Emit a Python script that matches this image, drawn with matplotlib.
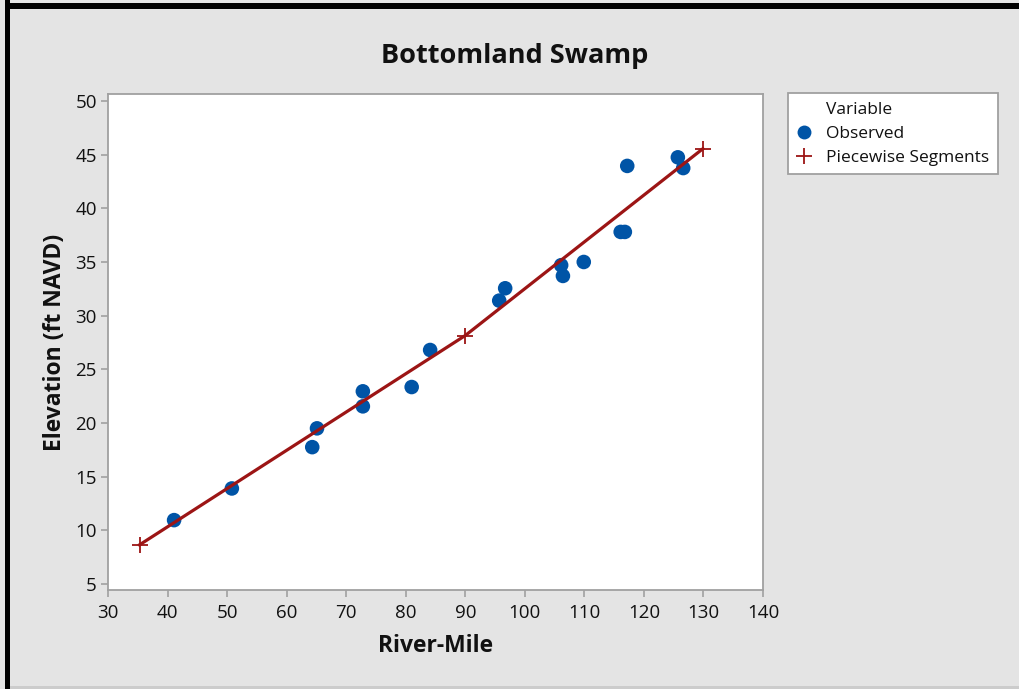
import matplotlib
matplotlib.use("Agg")
import matplotlib.pyplot as plt
from matplotlib.lines import Line2D
from matplotlib.patches import Rectangle

plt.rcParams['font.family'] = ['Open Sans', 'DejaVu Sans']

# Observed data (River-Mile, Elevation)
obs_x = [41.1, 50.8, 64.3, 65.1, 72.8, 72.8, 81.0, 84.1, 95.7, 96.7,
         106.1, 106.4, 109.9, 116.1, 116.8, 117.2, 125.7, 126.6]
obs_y = [10.95, 13.9, 17.75, 19.5, 22.95, 21.55, 23.35, 26.8, 31.4, 32.55,
         34.7, 33.7, 35.0, 37.8, 37.8, 43.95, 44.75, 43.75]

# Piecewise segment breakpoints
seg_x = [35.3, 90.0, 129.9]
seg_y = [8.65, 28.15, 45.55]

xticks = [30, 40, 50, 60, 70, 80, 90, 100, 110, 120, 130, 140]
yticks = [5, 10, 15, 20, 25, 30, 35, 40, 45, 50]

bg = '#e4e4e4'
spine_c = '#a0a0a0'
blue = '#0054a6'
red = '#9c1515'
txt = '#111111'

fig = plt.figure(figsize=(10.19, 6.89), dpi=100, facecolor=bg)

# outer frame: black at top and left, light gray at bottom
fig.add_artist(Rectangle((0.005, 0.0), 0.0045, 1.0, transform=fig.transFigure,
                         facecolor='black', edgecolor='none'))
fig.add_artist(Rectangle((0.005, 0.987), 0.995, 0.009, transform=fig.transFigure,
                         facecolor='black', edgecolor='none'))
fig.add_artist(Rectangle((0.0095, 0.0), 0.9905, 0.005, transform=fig.transFigure,
                         facecolor='#cccccc', edgecolor='none'))

ax = fig.add_axes([108/1019, 1-590/689, (763-108)/1019, (590-94)/689])
ax.set_facecolor('white')

ax.plot(seg_x, seg_y, color=red, lw=2.3, marker='+', markersize=11,
        markeredgewidth=1.3, zorder=3)
ax.scatter(obs_x, obs_y, s=110, color=blue, edgecolors='none', zorder=2)

ax.set_xlim(30, 140)
ax.set_ylim(4.44, 50.65)
ax.set_xticks(xticks)
ax.set_yticks(yticks)
ax.tick_params(axis='both', direction='out', length=5, width=1.2,
               color=spine_c, labelsize=13.5, labelcolor=txt)
ax.tick_params(axis='x', pad=5)
ax.tick_params(axis='y', pad=3)
for s in ax.spines.values():
    s.set_color(spine_c)
    s.set_linewidth(1.3)

ax.set_xlabel('River-Mile', fontsize=16.5, fontweight='bold', color=txt, labelpad=9)
ax.set_ylabel('Elevation (ft NAVD)', fontsize=16.5, fontweight='bold', color=txt, labelpad=6)

fig.text(0.505, 1-56/689, 'Bottomland Swamp', ha='center', va='center',
         fontsize=19.5, fontweight='bold', color=txt)

handles = [Line2D([], [], color='none', label='Variable'),
           Line2D([], [], ls='none', marker='o', markersize=10, color=blue,
                  markeredgecolor='none', label='Observed'),
           Line2D([], [], ls='none', marker='+', markersize=11, markeredgewidth=1.3,
                  color=red, label='Piecewise Segments')]
leg = fig.legend(handles=handles, loc='upper left',
                 bbox_to_anchor=(788/1019, 1-93/689), fontsize=12.5,
                 frameon=True, fancybox=False, framealpha=1, edgecolor=spine_c,
                 handlelength=0.9, handletextpad=0.8, borderpad=0.5,
                 labelspacing=0.45, borderaxespad=0)
leg.get_frame().set_linewidth(1.3)
for t in leg.get_texts():
    t.set_color(txt)

fig.savefig('out.png', dpi=100, facecolor=bg)
